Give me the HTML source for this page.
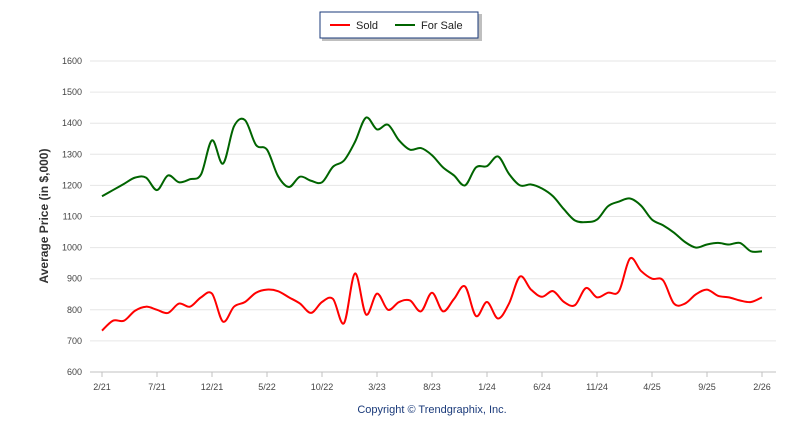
<!DOCTYPE html>
<html><head><meta charset="utf-8"><style>
body{margin:0;background:#fff;width:800px;height:434px;overflow:hidden;font-family:"Liberation Sans",sans-serif}
svg text{font-family:"Liberation Sans",sans-serif}
</style></head><body>
<svg id="c" width="800" height="434"></svg>
<script>
const months=[];
const xTickLabels=["2/21","7/21","12/21","5/22","10/22","3/23","8/23","1/24","6/24","11/24","4/25","9/25","2/26"];
const yTicks=[600,700,800,900,1000,1100,1200,1300,1400,1500,1600];
const forSale=[1165,1185,1205,1225,1225,1185,1232,1210,1220,1235,1345,1270,1390,1410,1330,1315,1230,1195,1228,1215,1210,1260,1280,1340,1418,1380,1395,1345,1315,1320,1297,1258,1232,1200,1258,1262,1293,1237,1200,1203,1190,1165,1123,1087,1082,1090,1133,1148,1158,1135,1090,1072,1048,1018,1000,1010,1015,1010,1015,988,988];
const sold=[733,765,765,797,810,800,790,820,810,840,852,762,810,825,855,865,860,840,820,790,825,835,757,917,785,852,800,825,830,795,855,795,835,875,780,825,772,820,907,865,842,860,825,815,870,840,855,860,965,925,900,895,820,820,850,865,845,840,830,825,840];
const NS="http://www.w3.org/2000/svg",svg=document.getElementById('c');
const x0=102,x1=762,yT=61,yB=372;
const xs=i=>x0+(x1-x0)*i/(sold.length-1);
const ys=v=>yB-(v-600)/1000*(yB-yT);
function mk(t,a,p){const e=document.createElementNS(NS,t);for(const k in a)e.setAttribute(k,a[k]);(p||svg).appendChild(e);return e;}
yTicks.forEach(v=>{
 const l=mk('line',{x1:90,x2:776,y1:ys(v),y2:ys(v),stroke:v==600?'#c0c0c0':'#e6e6e6','stroke-width':1});
 
 
 const t=mk('text',{x:82,y:ys(v)+3,'text-anchor':'end','font-size':9,fill:'#444'});t.textContent=v;
 
 
});
xTickLabels.forEach((s,k)=>{
 const x=xs(k*5);
 mk('line',{x1:x,x2:x,y1:372,y2:377,stroke:'#c0c0c0'});
 const t=mk('text',{x:x,y:390,'text-anchor':'middle','font-size':9,fill:'#444'});t.textContent=s;
 
 
});
function path(arr){
 const p=arr.map((v,i)=>[xs(i),ys(v)]);let d='M'+p[0][0]+','+p[0][1];
 for(let i=0;i<p.length-1;i++){const a=p[i-1]||p[i],b=p[i],c=p[i+1],e=p[i+2]||c;
  d+=' C'+(b[0]+(c[0]-a[0])/6)+','+(b[1]+(c[1]-a[1])/6)+' '+(c[0]-(e[0]-b[0])/6)+','+(c[1]-(e[1]-b[1])/6)+' '+c[0]+','+c[1];}
 return d;}
const g=mk('path',{d:path(forSale),fill:'none',stroke:'#006400','stroke-width':2});


const r=mk('path',{d:path(sold),fill:'none',stroke:'#ff0000','stroke-width':2});


const yt=mk('text',{x:0,y:0,transform:'translate(48,216) rotate(-90)','text-anchor':'middle','font-size':12,'font-weight':'bold',fill:'#333'});
yt.textContent='Average Price (in $,000)';


const cp=mk('text',{x:432,y:413,'text-anchor':'middle','font-size':11,fill:'#1a3a7a'});cp.textContent='Copyright © Trendgraphix, Inc.';


const lg=mk('g',{});


mk('rect',{x:322,y:14,width:160,height:27,fill:'#000',opacity:0.25},lg);
mk('rect',{x:320,y:12,width:158,height:26,fill:'#fff',stroke:'#1a3a7a'},lg);
mk('line',{x1:330,x2:350,y1:25,y2:25,stroke:'#ff0000','stroke-width':2},lg);
const t1=mk('text',{x:356,y:29,'font-size':11,fill:'#222'},lg);t1.textContent='Sold';


mk('line',{x1:395,x2:415,y1:25,y2:25,stroke:'#006400','stroke-width':2},lg);
const t2=mk('text',{x:421,y:29,'font-size':11,fill:'#222'},lg);t2.textContent='For Sale';


</script>
</body></html>
